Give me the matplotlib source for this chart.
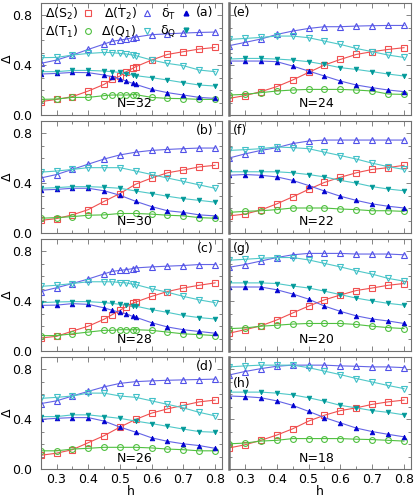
import matplotlib
matplotlib.use("Agg")
import matplotlib.pyplot as plt
from matplotlib.lines import Line2D
from matplotlib.ticker import MultipleLocator

plt.rcParams['font.family'] = ['DejaVu Sans']

h_dense = [0.25, 0.30, 0.35, 0.40, 0.45, 0.475, 0.50, 0.52, 0.54, 0.55, 0.60, 0.65, 0.70, 0.75, 0.80]
h_reg = [0.25, 0.30, 0.35, 0.40, 0.45, 0.50, 0.55, 0.60, 0.65, 0.70, 0.75, 0.80]

panel_ids = ['a', 'b', 'c', 'd', 'e', 'f', 'g', 'h']
N_values = [32, 30, 28, 26, 24, 22, 20, 18]

# (a)
S2_a = [0.107, 0.125, 0.147, 0.192, 0.245, 0.285, 0.312, 0.347, 0.373, 0.387, 0.44, 0.485, 0.507, 0.528, 0.541]
T1_a = [0.125, 0.128, 0.141, 0.141, 0.155, 0.16, 0.16, 0.16, 0.163, 0.163, 0.141, 0.133, 0.131, 0.125, 0.125]
T2_a = [0.413, 0.44, 0.48, 0.525, 0.568, 0.59, 0.60, 0.608, 0.619, 0.624, 0.643, 0.65, 0.656, 0.661, 0.664]
Q1_a = [0.459, 0.461, 0.48, 0.493, 0.501, 0.50, 0.493, 0.488, 0.48, 0.475, 0.44, 0.413, 0.395, 0.36, 0.347]
dT_a = [0.328, 0.333, 0.341, 0.339, 0.32, 0.307, 0.288, 0.272, 0.253, 0.245, 0.205, 0.179, 0.16, 0.141, 0.133]
dQ_a = [0.347, 0.347, 0.357, 0.357, 0.352, 0.347, 0.341, 0.328, 0.32, 0.315, 0.299, 0.28, 0.259, 0.24, 0.232]
# (b)
S2_b = [0.102, 0.116, 0.146, 0.188, 0.254, 0.317, 0.392, 0.441, 0.483, 0.505, 0.53, 0.543]
T1_b = [0.119, 0.124, 0.132, 0.143, 0.146, 0.157, 0.157, 0.152, 0.143, 0.138, 0.124, 0.119]
T2_b = [0.441, 0.469, 0.51, 0.552, 0.593, 0.626, 0.648, 0.662, 0.67, 0.676, 0.681, 0.681]
Q1_b = [0.488, 0.497, 0.51, 0.524, 0.524, 0.524, 0.497, 0.469, 0.441, 0.414, 0.386, 0.359]
dT_b = [0.345, 0.35, 0.359, 0.359, 0.339, 0.303, 0.254, 0.212, 0.179, 0.166, 0.146, 0.138]
dQ_b = [0.359, 0.364, 0.372, 0.372, 0.367, 0.359, 0.337, 0.317, 0.295, 0.276, 0.262, 0.248]
# (c)
S2_c = [0.106, 0.119, 0.161, 0.2, 0.256, 0.292, 0.328, 0.356, 0.383, 0.394, 0.439, 0.478, 0.506, 0.528, 0.547]
T1_c = [0.125, 0.125, 0.139, 0.153, 0.167, 0.167, 0.172, 0.172, 0.172, 0.172, 0.167, 0.153, 0.139, 0.133, 0.125]
T2_c = [0.478, 0.508, 0.542, 0.578, 0.619, 0.639, 0.647, 0.653, 0.661, 0.667, 0.675, 0.681, 0.686, 0.694, 0.694]
Q1_c = [0.519, 0.528, 0.542, 0.556, 0.556, 0.556, 0.55, 0.547, 0.536, 0.533, 0.5, 0.472, 0.439, 0.411, 0.389]
dT_c = [0.367, 0.369, 0.381, 0.375, 0.347, 0.328, 0.311, 0.3, 0.278, 0.272, 0.228, 0.194, 0.172, 0.158, 0.144]
dQ_c = [0.389, 0.394, 0.397, 0.397, 0.389, 0.383, 0.375, 0.367, 0.361, 0.361, 0.333, 0.311, 0.286, 0.269, 0.258]
# (d)
S2_d = [0.112, 0.129, 0.157, 0.213, 0.269, 0.338, 0.4, 0.45, 0.484, 0.512, 0.54, 0.554]
T1_d = [0.148, 0.148, 0.162, 0.168, 0.176, 0.176, 0.176, 0.171, 0.162, 0.157, 0.148, 0.148]
T2_d = [0.526, 0.548, 0.587, 0.624, 0.66, 0.688, 0.702, 0.708, 0.713, 0.716, 0.719, 0.722]
Q1_d = [0.568, 0.576, 0.587, 0.61, 0.61, 0.587, 0.576, 0.548, 0.52, 0.492, 0.456, 0.428]
dT_d = [0.4, 0.408, 0.414, 0.414, 0.386, 0.338, 0.297, 0.252, 0.224, 0.204, 0.19, 0.168]
dQ_d = [0.422, 0.422, 0.436, 0.436, 0.422, 0.408, 0.386, 0.366, 0.344, 0.322, 0.302, 0.297]
# (e)
S2_e = [0.133, 0.155, 0.187, 0.227, 0.28, 0.341, 0.4, 0.445, 0.485, 0.507, 0.525, 0.539]
T1_e = [0.16, 0.165, 0.179, 0.192, 0.2, 0.205, 0.205, 0.205, 0.2, 0.192, 0.168, 0.165]
T2_e = [0.555, 0.581, 0.608, 0.645, 0.672, 0.693, 0.707, 0.707, 0.712, 0.715, 0.717, 0.717]
Q1_e = [0.605, 0.613, 0.621, 0.632, 0.632, 0.619, 0.592, 0.565, 0.533, 0.507, 0.48, 0.461]
dT_e = [0.432, 0.432, 0.432, 0.427, 0.392, 0.352, 0.312, 0.272, 0.24, 0.219, 0.2, 0.187]
dQ_e = [0.448, 0.453, 0.453, 0.448, 0.44, 0.427, 0.405, 0.379, 0.365, 0.347, 0.328, 0.312]
# (f)
S2_f = [0.138, 0.152, 0.185, 0.234, 0.29, 0.35, 0.406, 0.447, 0.483, 0.51, 0.524, 0.543]
T1_f = [0.166, 0.174, 0.179, 0.188, 0.201, 0.201, 0.201, 0.193, 0.188, 0.179, 0.179, 0.174]
T2_f = [0.601, 0.634, 0.662, 0.684, 0.717, 0.737, 0.745, 0.745, 0.745, 0.745, 0.745, 0.745]
Q1_f = [0.662, 0.668, 0.676, 0.69, 0.684, 0.676, 0.648, 0.621, 0.593, 0.56, 0.532, 0.51]
dT_f = [0.463, 0.469, 0.463, 0.45, 0.422, 0.381, 0.337, 0.295, 0.262, 0.234, 0.215, 0.201]
dQ_f = [0.491, 0.491, 0.491, 0.491, 0.483, 0.469, 0.45, 0.422, 0.4, 0.372, 0.353, 0.339]
# (g)
S2_g = [0.144, 0.172, 0.203, 0.25, 0.306, 0.361, 0.411, 0.45, 0.486, 0.506, 0.528, 0.542]
T1_g = [0.181, 0.186, 0.2, 0.208, 0.217, 0.222, 0.222, 0.222, 0.214, 0.2, 0.189, 0.181]
T2_g = [0.672, 0.694, 0.722, 0.75, 0.772, 0.783, 0.783, 0.783, 0.778, 0.778, 0.778, 0.772]
Q1_g = [0.728, 0.736, 0.744, 0.75, 0.75, 0.731, 0.703, 0.675, 0.644, 0.617, 0.583, 0.561]
dT_g = [0.514, 0.514, 0.514, 0.492, 0.458, 0.417, 0.361, 0.319, 0.283, 0.258, 0.242, 0.222]
dQ_g = [0.547, 0.547, 0.547, 0.542, 0.522, 0.506, 0.481, 0.453, 0.425, 0.403, 0.383, 0.369]
# (h)
S2_h = [0.171, 0.196, 0.232, 0.274, 0.324, 0.386, 0.433, 0.47, 0.492, 0.52, 0.54, 0.554]
T1_h = [0.204, 0.21, 0.226, 0.232, 0.246, 0.246, 0.246, 0.246, 0.241, 0.238, 0.232, 0.226]
T2_h = [0.755, 0.783, 0.806, 0.825, 0.834, 0.834, 0.834, 0.828, 0.825, 0.82, 0.82, 0.814]
Q1_h = [0.82, 0.828, 0.834, 0.834, 0.834, 0.814, 0.786, 0.758, 0.727, 0.699, 0.671, 0.646]
dT_h = [0.587, 0.582, 0.573, 0.548, 0.512, 0.464, 0.414, 0.372, 0.33, 0.302, 0.28, 0.26]
dQ_h = [0.618, 0.618, 0.618, 0.61, 0.596, 0.573, 0.545, 0.512, 0.492, 0.47, 0.456, 0.436]

panel_data = {
    'a': (h_dense, S2_a, T1_a, T2_a, Q1_a, dT_a, dQ_a),
    'b': (h_reg, S2_b, T1_b, T2_b, Q1_b, dT_b, dQ_b),
    'c': (h_dense, S2_c, T1_c, T2_c, Q1_c, dT_c, dQ_c),
    'd': (h_reg, S2_d, T1_d, T2_d, Q1_d, dT_d, dQ_d),
    'e': (h_reg, S2_e, T1_e, T2_e, Q1_e, dT_e, dQ_e),
    'f': (h_reg, S2_f, T1_f, T2_f, Q1_f, dT_f, dQ_f),
    'g': (h_reg, S2_g, T1_g, T2_g, Q1_g, dT_g, dQ_g),
    'h': (h_reg, S2_h, T1_h, T2_h, Q1_h, dT_h, dQ_h),
}

RED = '#f05050'
GREEN = '#50c040'
BLUE_L = '#5050e8'
CYAN = '#40c0c8'
BLUE_F = '#0000d0'
TEAL_F = '#009898'
LINE_BLUE = '#6464e6'
LINE_CYAN = '#50c8c8'
SPINE = '#707070'

W, H = 415, 500
fig = plt.figure(figsize=(W / 100, H / 100), dpi=100)

col_x = [40.7, 229.0]
col_w = [181.0, 181.7]
row_bottom = [115.0, 233.1, 351.2, 469.3]
ph = 112.4

fs = 9
for i, pid in enumerate(panel_ids):
    col = i // 4
    row = i % 4
    x0 = col_x[col] / W
    y0 = 1 - row_bottom[row] / H
    ax = fig.add_axes([x0, y0, col_w[col] / W, ph / H])
    h, S2, T1, T2, Q1, dT, dQ = panel_data[pid]
    lw = 0.8
    ax.plot(h, S2, '-', color=RED, lw=lw, marker='s', ms=4.2, mfc='none', mec=RED, mew=0.8)
    ax.plot(h, T1, '-', color=GREEN, lw=lw, marker='o', ms=4.2, mfc='none', mec=GREEN, mew=0.8)
    ax.plot(h, T2, '-', color=LINE_BLUE, lw=lw, marker='^', ms=4.4, mfc='none', mec=BLUE_L, mew=0.8)
    ax.plot(h, Q1, '-', color=LINE_CYAN, lw=lw, marker='v', ms=4.4, mfc='none', mec=CYAN, mew=0.8)
    ax.plot(h, dT, '-', color=LINE_BLUE, lw=lw, marker='^', ms=3.4, mfc=BLUE_F, mec=BLUE_F, mew=0.5)
    ax.plot(h, dQ, '-', color=LINE_CYAN, lw=lw, marker='v', ms=3.4, mfc=TEAL_F, mec=TEAL_F, mew=0.5)

    ax.set_xlim(0.25, 0.821)
    ax.set_ylim(0.0, 0.9)
    ax.xaxis.set_major_locator(MultipleLocator(0.1))
    ax.xaxis.set_minor_locator(MultipleLocator(0.05))
    ax.yaxis.set_major_locator(MultipleLocator(0.4))
    ax.yaxis.set_minor_locator(MultipleLocator(0.1))
    ax.tick_params(which='both', direction='in', top=True, right=True, colors=SPINE,
                   labelcolor='black', labelsize=fs)
    ax.tick_params(axis='y', pad=6)
    ax.tick_params(axis='x', pad=3)
    ax.tick_params(which='major', length=3.5, width=0.6)
    ax.tick_params(which='minor', length=2.5, width=0.6)
    for s in ax.spines.values():
        s.set_color(SPINE)
        s.set_linewidth(0.8)
    if col == 1:
        ax.spines['left'].set_linewidth(1.8)
        ax.set_yticklabels([])
    else:
        ax.set_yticks([0.0, 0.4, 0.8])
        ax.set_yticklabels(['0.0', '0.4', '0.8'])
        fig.text(7 / W, y0 + 0.5 * ph / H, 'Δ', rotation=90, ha='center', va='center', fontsize=fs)
    if row == 3:
        ax.set_xticks([0.3, 0.4, 0.5, 0.6, 0.7, 0.8])
        ax.set_xticklabels(['0.3', '0.4', '0.5', '0.6', '0.7', '0.8'])
        ax.set_xlabel('h', fontsize=fs, labelpad=-1)
    else:
        ax.set_xticklabels([])

    if col == 0:
        ax.text(0.795, 0.82, f'({pid})', ha='right', va='center', fontsize=fs)
        ax.text(0.545, 0.09, f'N={N_values[i]}', ha='center', va='center', fontsize=fs)
    else:
        ly = 0.69 if pid == 'h' else 0.82
        ax.text(0.262, ly, f'({pid})', ha='left', va='center', fontsize=fs)
        ax.text(0.525, 0.09, f'N={N_values[i]}', ha='center', va='center', fontsize=fs)

    if pid == 'a':
        handles = [
            Line2D([], [], ls='none', marker='s', ms=4.2, mfc='none', mec=RED, mew=0.8),
            Line2D([], [], ls='none', marker='o', ms=4.2, mfc='none', mec=GREEN, mew=0.8),
            Line2D([], [], ls='none', marker='^', ms=4.4, mfc='none', mec=BLUE_L, mew=0.8),
            Line2D([], [], ls='none', marker='v', ms=4.4, mfc='none', mec=CYAN, mew=0.8),
            Line2D([], [], ls='none', marker='^', ms=3.4, mfc=BLUE_F, mec=BLUE_F),
            Line2D([], [], ls='none', marker='v', ms=3.4, mfc=TEAL_F, mec=TEAL_F),
        ]
        labels = ['Δ(S$_2$)', 'Δ(T$_1$)', 'Δ(T$_2$)', 'Δ(Q$_1$)', 'δ$_\\mathrm{T}$', 'δ$_\\mathrm{Q}$']
        ax.legend(handles, labels, ncol=3, loc='upper left', frameon=False,
                  markerfirst=False, fontsize=fs, handlelength=0.9, handletextpad=0.35,
                  columnspacing=0.6, labelspacing=0.15, borderaxespad=0.1,
                  bbox_to_anchor=(-0.01, 1.03))

fig.savefig('out.png', dpi=100)
